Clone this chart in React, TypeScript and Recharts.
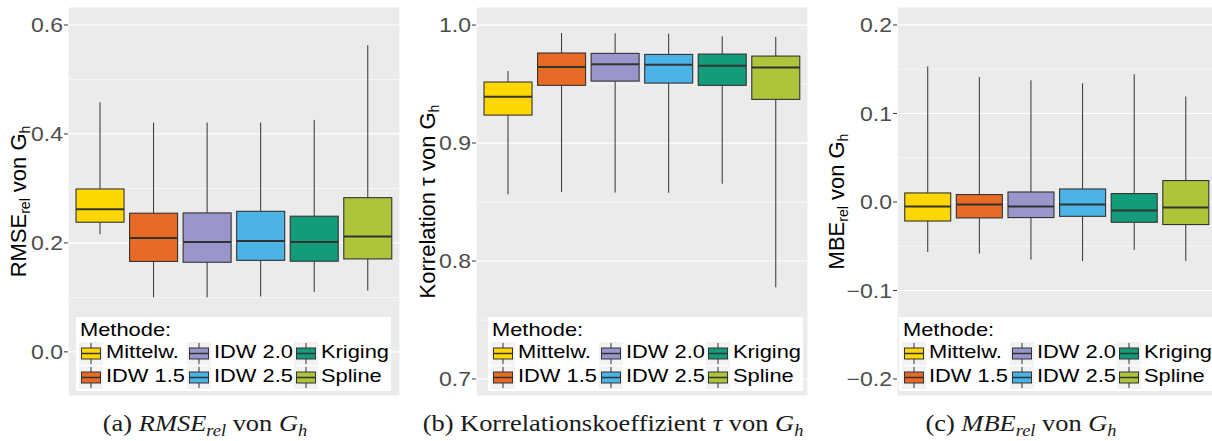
import { Bar, BarChart, CartesianGrid, XAxis, YAxis } from "recharts";

const METHODS = ["Mittelw.", "IDW 1.5", "IDW 2.0", "IDW 2.5", "Kriging", "Spline"];
const METHOD_COLORS = ["#FFD700", "#E96A24", "#9896CA", "#4BB3E6", "#139B7B", "#ADC53A"];

// RMSE_rel of G_h: lower whisker, Q1, median, Q3, upper whisker per method
const RMSE_LOW = [0.216, 0.1, 0.1, 0.1015, 0.11, 0.1125];
const RMSE_Q1 = [0.238, 0.166, 0.1645, 0.168, 0.1664, 0.1706];
const RMSE_MED = [0.262, 0.209, 0.2018, 0.2037, 0.2018, 0.2116];
const RMSE_Q3 = [0.299, 0.2545, 0.255, 0.258, 0.249, 0.283];
const RMSE_HIGH = [0.458, 0.421, 0.421, 0.421, 0.4257, 0.563];
const RMSE_TICKS = [0, 0.2, 0.4, 0.6];
const RMSE_MINOR = [-0.1, 0.1, 0.3, 0.5];
const RMSE_DOMAIN = [-0.081, 0.633];

// Kendall's tau of G_h
const TAU_LOW = [0.8565, 0.8585, 0.858, 0.8579, 0.8655, 0.7777];
const TAU_Q1 = [0.9237, 0.9489, 0.9525, 0.9508, 0.9489, 0.937];
const TAU_MED = [0.9393, 0.9644, 0.9667, 0.9664, 0.9655, 0.9641];
const TAU_Q3 = [0.9517, 0.9763, 0.976, 0.9751, 0.9754, 0.9737];
const TAU_HIGH = [0.961, 0.9932, 0.993, 0.9927, 0.9904, 0.99];
const TAU_TICKS = [0.7, 0.8, 0.9, 1.0];
const TAU_MINOR = [0.75, 0.85, 0.95];
const TAU_DOMAIN = [0.6856, 1.0153];

// MBE_rel of G_h
const MBE_LOW = [-0.0565, -0.0583, -0.0651, -0.0667, -0.0542, -0.0667];
const MBE_Q1 = [-0.0215, -0.018, -0.0176, -0.0162, -0.0229, -0.0255];
const MBE_MED = [-0.0052, -0.0029, -0.0052, -0.0029, -0.0097, -0.0063];
const MBE_Q3 = [0.0102, 0.0084, 0.0113, 0.0147, 0.0095, 0.0242];
const MBE_HIGH = [0.1533, 0.1412, 0.1375, 0.1341, 0.1443, 0.1191];
const MBE_TICKS = [-0.2, -0.1, 0.0, 0.1, 0.2];
const MBE_MINOR = [-0.15, -0.05, 0.05, 0.15];
const MBE_DOMAIN = [-0.2192, 0.2203];

const SANS = "'Liberation Sans', Arial, sans-serif";
const SERIF = "'Liberation Serif', 'Times New Roman', serif";
const INK = "#333333";
// horizontal text is drawn a little wide, like the exported figure
const STRETCH = 1.15;

interface BoxRow {
  method: string;
  color: string;
  box: [number, number];
  low: number;
  q1: number;
  med: number;
  q3: number;
  high: number;
}

const buildRows = (low: number[], q1: number[], med: number[], q3: number[], high: number[]): BoxRow[] =>
  METHODS.map((method, i) => ({
    method,
    color: METHOD_COLORS[i],
    box: [q1[i], q3[i]],
    low: low[i],
    q1: q1[i],
    med: med[i],
    q3: q3[i],
    high: high[i],
  }));

// The bar itself spans Q1..Q3; whiskers and median are placed with the same px-per-unit.
const BoxShape = (props: any) => {
  const { x, y, width, height } = props;
  const row: BoxRow = props.payload ?? props;
  const top = Math.min(y, y + height);
  const h = Math.abs(height);
  const k = h / (row.q3 - row.q1);
  const py = (v: number) => top + (row.q3 - v) * k;
  const cx = x + width / 2;
  return (
    <g>
      <line x1={cx} x2={cx} y1={py(row.high)} y2={top} stroke={INK} strokeWidth={1} />
      <line x1={cx} x2={cx} y1={top + h} y2={py(row.low)} stroke={INK} strokeWidth={1} />
      <rect x={x} y={top} width={width} height={h} fill={row.color} stroke={INK} strokeWidth={1.1} />
      <line x1={x} x2={x + width} y1={py(row.med)} y2={py(row.med)} stroke={INK} strokeWidth={2} />
    </g>
  );
};

const formatTick = (v: number) => (v < 0 ? `\u2212${Math.abs(v).toFixed(1)}` : v.toFixed(1));

const ValueTick = (props: any) => (
  <text
    transform={`translate(${props.x},${props.y}) scale(${STRETCH},1)`}
    textAnchor="end"
    dy="0.355em"
    fill="#4D4D4D"
    fontFamily={SANS}
    fontSize={20}
  >
    {formatTick(props.payload.value)}
  </text>
);

interface TitlePart {
  text: string;
  sub?: boolean;
}

const AxisTitle = (props: any) => {
  const parts: TitlePart[] = props.parts;
  const vb = props.viewBox;
  const cy = vb ? vb.y + vb.height / 2 : 201;
  return (
    <text
      transform={`translate(${props.baseX},${cy}) rotate(-90)`}
      textAnchor="middle"
      fontFamily={SANS}
      fontSize={22}
      fill="#000"
    >
      {parts.map((p, i) => (
        <tspan key={i} fontSize={p.sub ? 14 : 22} dy={p.sub ? 4 : i > 0 && parts[i - 1].sub ? -4 : 0}>
          {p.text}
        </tspan>
      ))}
    </text>
  );
};

const LegendKey = ({ color }: { color: string }) => (
  <svg width={24} height={23} style={{ display: "block", background: "#F2F2F2" }}>
    <line x1={12} x2={12} y1={1} y2={22} stroke={INK} strokeWidth={1} />
    <rect x={2.5} y={6} width={19} height={11} fill={color} stroke={INK} strokeWidth={1} />
    <line x1={2.5} x2={21.5} y1={11.5} y2={11.5} stroke={INK} strokeWidth={1.5} />
  </svg>
);

const wideText: React.CSSProperties = {
  position: "absolute",
  whiteSpace: "nowrap",
  transform: `scaleX(${STRETCH})`,
  transformOrigin: "left center",
};

const MethodLegend = ({ left }: { left: number }) => (
  <div
    style={{
      position: "absolute",
      left,
      top: 317,
      width: 315,
      height: 74,
      background: "#fff",
      fontFamily: SANS,
      fontSize: 19,
      lineHeight: "19px",
      color: "#000",
    }}
  >
    <div style={{ ...wideText, left: 4, top: 3 }}>Methode:</div>
    {METHODS.map((m, i) => {
      const col = Math.floor(i / 2);
      const rowTop = 25 + (i % 2) * 23.5;
      return (
        <div key={m}>
          <div style={{ position: "absolute", left: 3 + col * 107.5, top: rowTop }}>
            <LegendKey color={METHOD_COLORS[i]} />
          </div>
          <div style={{ ...wideText, left: 30 + col * 107.5, top: rowTop }}>{m}</div>
        </div>
      );
    })}
  </div>
);

interface PanelProps {
  left: number;
  width: number;
  axisWidth: number;
  rightMargin: number;
  padding: number;
  rows: BoxRow[];
  domain: number[];
  ticks: number[];
  minor: number[];
  title: TitlePart[];
  titleX: number;
  legendLeft: number;
}

const BoxPanel = (p: PanelProps) => (
  <div style={{ position: "absolute", left: p.left, top: 0 }}>
    <BarChart
      width={p.width}
      height={400}
      data={p.rows}
      margin={{ top: 7, right: p.rightMargin, bottom: 4, left: 0 }}
      barCategoryGap="5%"
    >
      <CartesianGrid fill="#EBEBEB" stroke="#FFFFFF" strokeWidth={0.6} vertical={false} horizontalValues={p.minor} />
      <CartesianGrid stroke="#FFFFFF" strokeWidth={1.2} />
      <XAxis
        dataKey="method"
        type="category"
        padding={{ left: p.padding, right: p.padding }}
        tick={false}
        tickLine={false}
        axisLine={false}
        height={0}
      />
      <YAxis
        type="number"
        domain={p.domain}
        ticks={p.ticks}
        allowDataOverflow
        width={p.axisWidth}
        axisLine={false}
        tickLine={{ stroke: INK, strokeWidth: 1 }}
        tickSize={4}
        tickMargin={1}
        tick={<ValueTick />}
        label={<AxisTitle parts={p.title} baseX={p.titleX} />}
      />
      <Bar dataKey="box" shape={<BoxShape />} isAnimationActive={false} />
    </BarChart>
    <MethodLegend left={p.legendLeft - p.left} />
  </div>
);

const Caption = ({ cx, parts }: { cx: number; parts: { text: string; italic?: boolean; sub?: boolean }[] }) => (
  <text transform={`translate(${cx},431) scale(${STRETCH},1)`} textAnchor="middle" fontFamily={SERIF} fontSize={23} fill="#1A1A1A">
    {parts.map((p, i) => (
      <tspan
        key={i}
        fontStyle={p.italic ? "italic" : "normal"}
        fontSize={p.sub ? 16 : 23}
        dy={p.sub ? 5 : i > 0 && parts[i - 1].sub ? -5 : 0}
      >
        {p.text}
      </tspan>
    ))}
  </text>
);

export default function App() {
  return (
    <div
      style={{
        position: "absolute",
        left: 0,
        top: 0,
        width: 1212,
        height: 441,
        overflow: "hidden",
        background: "#fff",
      }}
    >
      <BoxPanel
        left={0}
        width={405}
        axisWidth={68}
        rightMargin={5}
        padding={5.35}
        rows={buildRows(RMSE_LOW, RMSE_Q1, RMSE_MED, RMSE_Q3, RMSE_HIGH)}
        domain={RMSE_DOMAIN}
        ticks={RMSE_TICKS}
        minor={RMSE_MINOR}
        title={[{ text: "RMSE" }, { text: "rel", sub: true }, { text: " von G" }, { text: "h", sub: true }]}
        titleX={26}
        legendLeft={76}
      />
      <BoxPanel
        left={410}
        width={403}
        axisWidth={66}
        rightMargin={5}
        padding={5.35}
        rows={buildRows(TAU_LOW, TAU_Q1, TAU_MED, TAU_Q3, TAU_HIGH)}
        domain={TAU_DOMAIN}
        ticks={TAU_TICKS}
        minor={TAU_MINOR}
        title={[{ text: "Korrelation \u03c4 von G" }, { text: "h", sub: true }]}
        titleX={25}
        legendLeft={488}
      />
      <BoxPanel
        left={820}
        width={400}
        axisWidth={77}
        rightMargin={3}
        padding={5.16}
        rows={buildRows(MBE_LOW, MBE_Q1, MBE_MED, MBE_Q3, MBE_HIGH)}
        domain={MBE_DOMAIN}
        ticks={MBE_TICKS}
        minor={MBE_MINOR}
        title={[{ text: "MBE" }, { text: "rel", sub: true }, { text: " von G" }, { text: "h", sub: true }]}
        titleX={24}
        legendLeft={899}
      />
      <svg width={1212} height={441} style={{ position: "absolute", left: 0, top: 0, pointerEvents: "none" }}>
        <Caption
          cx={205}
          parts={[
            { text: "(a) " },
            { text: "RMSE", italic: true },
            { text: "rel", italic: true, sub: true },
            { text: " von " },
            { text: "G", italic: true },
            { text: "h", italic: true, sub: true },
          ]}
        />
        <Caption
          cx={613}
          parts={[
            { text: "(b) Korrelationskoeffizient " },
            { text: "\u03c4", italic: true },
            { text: " von " },
            { text: "G", italic: true },
            { text: "h", italic: true, sub: true },
          ]}
        />
        <Caption
          cx={1021}
          parts={[
            { text: "(c) " },
            { text: "MBE", italic: true },
            { text: "rel", italic: true, sub: true },
            { text: " von " },
            { text: "G", italic: true },
            { text: "h", italic: true, sub: true },
          ]}
        />
      </svg>
    </div>
  );
}
